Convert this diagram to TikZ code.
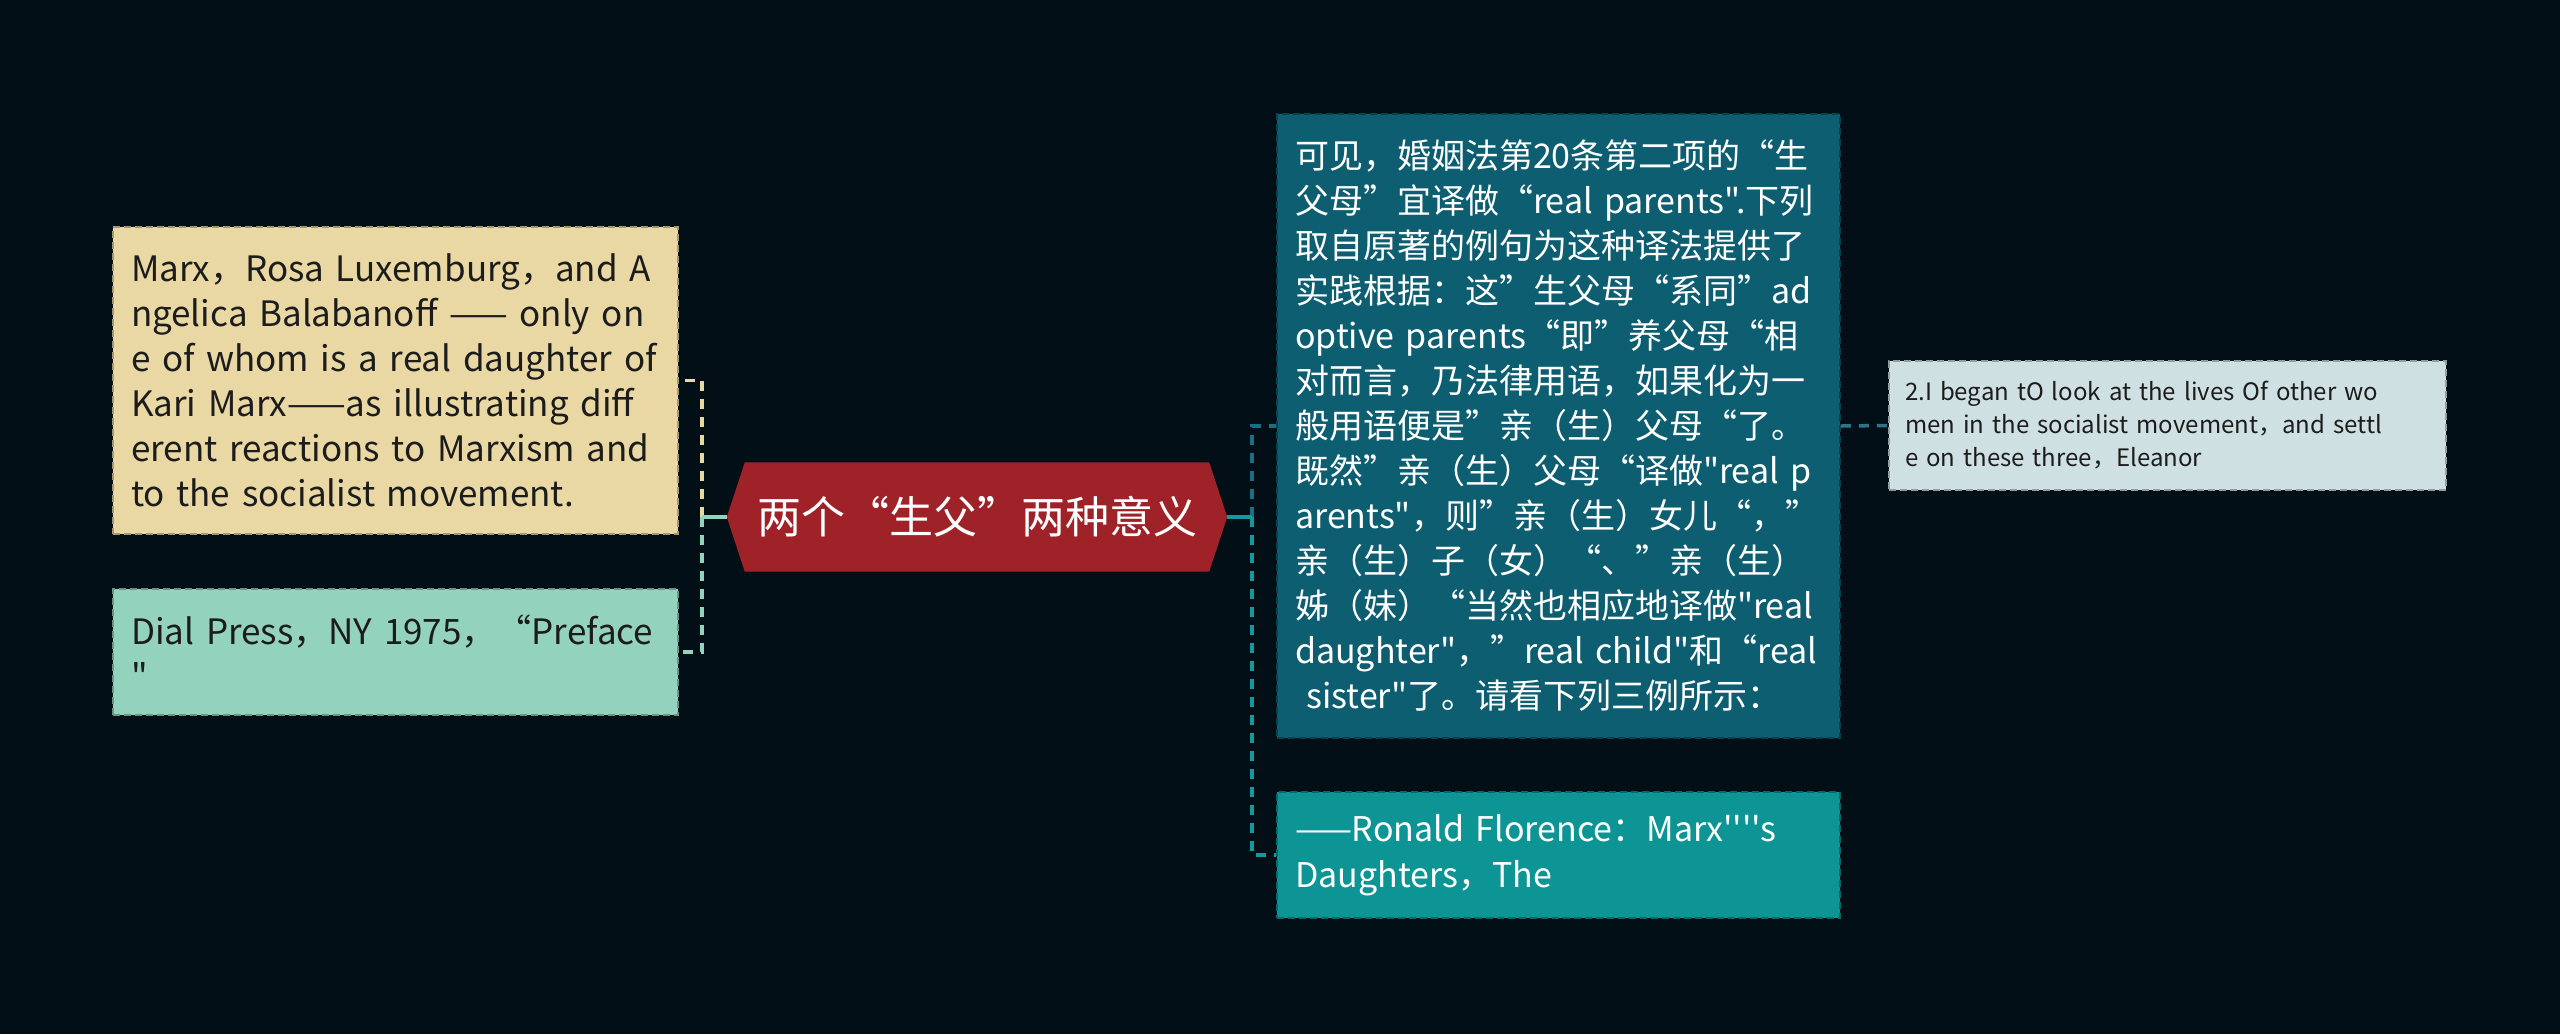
\documentclass[tikz,border=0pt]{standalone}
\usepackage{fontspec}
\newfontfamily\cjk{Noto Sans CJK SC}
\definecolor{bgc}{HTML}{030F17}
\definecolor{beige}{HTML}{E9D8A3}
\definecolor{mint}{HTML}{93D3BD}
\definecolor{hexred}{HTML}{9E2228}
\definecolor{darkteal}{HTML}{0D5E71}
\definecolor{teal}{HTML}{0D9494}
\definecolor{pale}{HTML}{CFE0E3}
\definecolor{darktxt}{HTML}{1C1C1C}
\definecolor{conndark}{HTML}{1B6F82}
\definecolor{connteal}{HTML}{149A9C}
\definecolor{connside}{HTML}{2B7586}
\tikzset{
  box/.style={rectangle, draw=#1!70!black, fill=#1, line width=1.5pt,
    dash pattern=on 7pt off 4pt, inner xsep=18pt, inner ysep=0pt, align=left},
  bigtxt/.style={font=\cjk\fontsize{35}{45}\selectfont},
  conn/.style={line width=3.5pt, dash pattern=on 10pt off 8pt},
  stub/.style={line width=3.5pt}
}
\begin{document}
\begin{tikzpicture}[x=1pt,y=-1pt]
\fill[bgc] (0,0) rectangle (2560,1034);
\useasboundingbox (0,0) rectangle (2560,1034);

% central topic
\node[rectangle, minimum width=500pt, minimum height=109pt, inner sep=0pt] (hex) at (977,517) {};
\fill[hexred] (hex.west) -- ([xshift=18pt]hex.north west) -- ([xshift=-18pt]hex.north east)
  -- (hex.east) -- ([xshift=-18pt]hex.south east) -- ([xshift=18pt]hex.south west) -- cycle;
\node[text=white, font=\cjk\fontsize{44}{50}\selectfont, inner sep=0pt] (title) at (hex.center) {两个“生父”两种意义};

% left boxes
\node[box=beige, bigtxt, text=darktxt, text width=529pt, minimum height=307pt] (b1) at (395.5,380.5)
{\mbox{Marx，Rosa Luxemburg，and A}\\
\mbox{ngelica Balabanoff —— only on}\\
\mbox{e of whom is a real daughter of}\\
\mbox{Kari Marx——as illustrating diff}\\
\mbox{erent reactions to Marxism and}\\
\mbox{to the socialist movement.}};

\node[box=mint, bigtxt, text=darktxt, text width=529pt, minimum height=126pt] (b2) at (395.5,652)
{\mbox{Dial Press，NY 1975，“Preface}\\
\mbox{"}};

% right boxes
\node[box=darkteal, font=\cjk\fontsize{34}{45}\selectfont, text=white, text width=527pt, minimum height=624pt] (b3) at (1558.5,426)
{\mbox{可见，婚姻法第20条第二项的“生}\\
\mbox{父母”宜译做“real parents".下列}\\
\mbox{取自原著的例句为这种译法提供了}\\
\mbox{实践根据：这”生父母“系同”ad}\\
\mbox{optive parents“即”养父母“相}\\
\mbox{对而言，乃法律用语，如果化为一}\\
\mbox{般用语便是”亲（生）父母“了。}\\
\mbox{既然”亲（生）父母“译做"real p}\\
\mbox{arents"，则”亲（生）女儿“，”}\\
\mbox{亲（生）子（女）“、”亲（生）}\\
\mbox{姊（妹）“当然也相应地译做"real}\\
\mbox{daughter"，”real child"和“real}\\
\mbox{\ sister"了。请看下列三例所示：}};

\node[box=teal, font=\cjk\fontsize{34}{46}\selectfont, text=white, text width=527pt, minimum height=126pt] (b4) at (1558.5,855)
{\mbox{——Ronald Florence：Marx'\kern0pt'\kern0pt'\kern0pt's}\\
\mbox{Daughters，The}};

\node[box=pale, font=\cjk\fontsize{24}{33}\selectfont, text=darktxt, inner xsep=16pt, text width=525pt, minimum height=129pt] (b5) at (2167.5,425.5)
{\mbox{2.I began tO look at the lives Of other wo}\\
\mbox{men in the socialist movement，and settl}\\
\mbox{e on these three，Eleanor}};

% connectors
\coordinate (lj) at (702,517);
\coordinate (rj) at (1252,517);
\draw[conn, beige] (lj) |- (b1.east);
\draw[conn, mint] (lj) |- (b2.east);
\draw[stub, mint] (hex.west) -- (lj);
\draw[conn, conndark] (rj) |- (b3.west);
\draw[conn, connteal] (rj) |- (b4.west);
\draw[stub, connteal] (hex.east) -- (rj);
\draw[conn, connside] (b3.east) -- (b5.west);
\end{tikzpicture}
\end{document}
